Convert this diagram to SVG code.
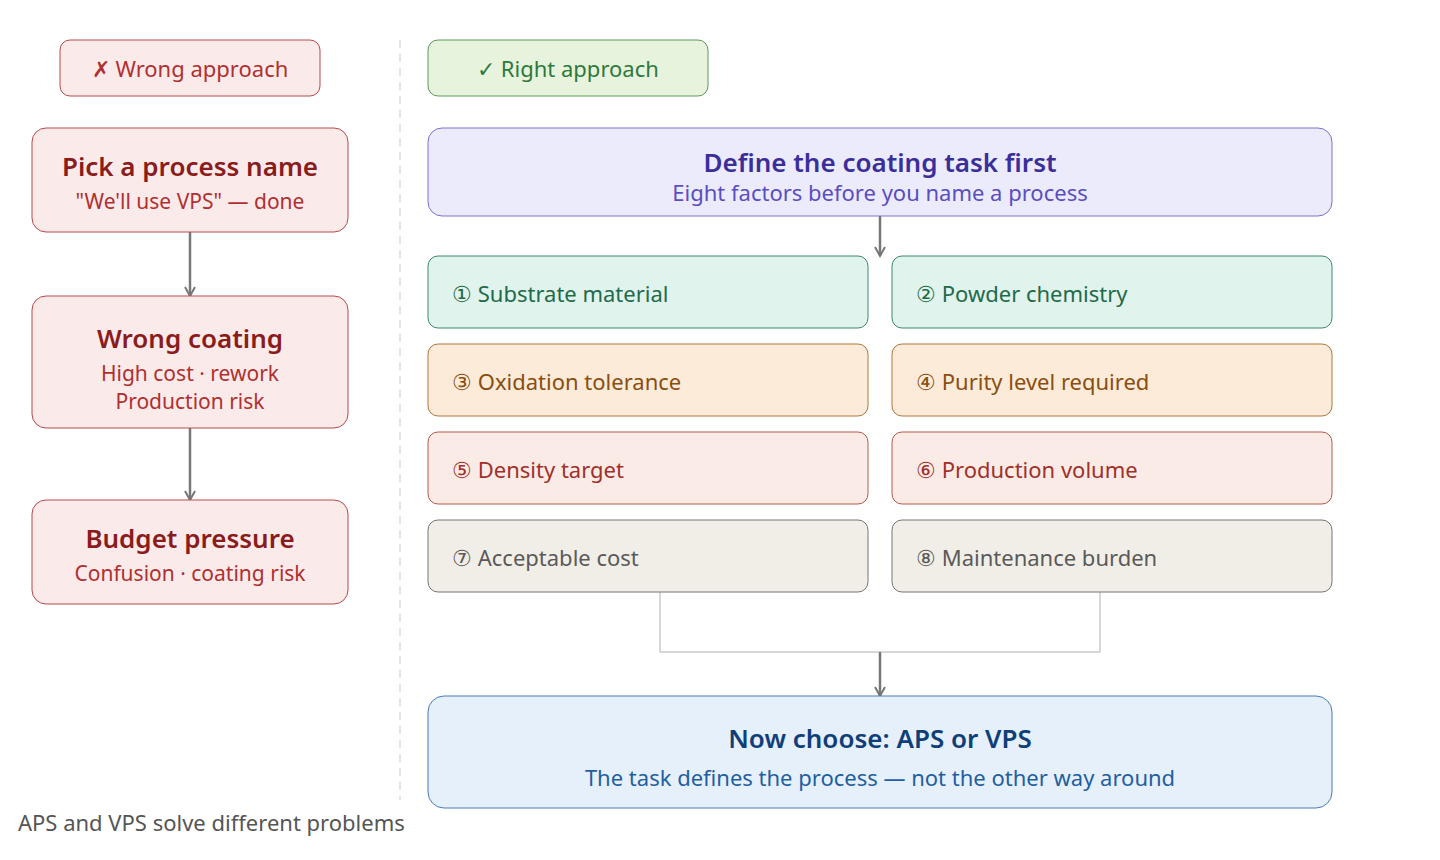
<svg xmlns="http://www.w3.org/2000/svg" width="1440" height="860" viewBox="0 0 1440 860">
<style>
text{font-family:"Noto Sans","Open Sans","Liberation Sans",sans-serif;text-anchor:middle}
.red rect{fill:#fbeaea;stroke:#b84a4a;stroke-width:1}
.t{font-size:26px;font-weight:600;fill:#8a1c1c}
.s{font-size:21px;fill:#b03030}
.f{font-size:22px;text-anchor:start}
.c{stroke:#777;stroke-width:2.5;fill:none;marker-end:url(#a)}
</style>
<defs><marker id="a" viewBox="0 0 12 12" refX="10" refY="6" markerWidth="12" markerHeight="12" markerUnits="userSpaceOnUse" orient="auto"><path d="M1,1 L10,6 L1,11" fill="none" stroke="#777" stroke-width="2"/></marker></defs>
<rect width="1440" height="860" fill="#fff"/>
<line x1="400" y1="40" x2="400" y2="800" stroke="#ddd" stroke-width="1.5" stroke-dasharray="8,6"/>
<g id="connectors">
<path class="c" d="M190,232 V296"/>
<path class="c" d="M190,428 V500"/>
<path class="c" d="M880,216 V256"/>
<path d="M660,592 V652 H1100 V592" fill="none" stroke="#ccc" stroke-width="1.5"/>
<path class="c" d="M880,652 V696"/>
</g>
<g id="wrong" class="red"><rect x="60" y="40" width="260" height="56" rx="10"/><text x="190" y="77" class="s" style="font-size:22px">✗ Wrong approach</text></g>
<g id="right"><rect x="428" y="40" width="280" height="56" rx="10" fill="#e8f3de" stroke="#5a9a5a"/><text x="568" y="77" style="font-size:22px" fill="#2c7a3c">✓ Right approach</text></g>
<g id="pick" class="red"><rect x="32" y="128" width="316" height="104" rx="14"/><text x="190" y="176" class="t">Pick a process name</text><text x="190" y="209" class="s">"We'll use VPS" — done</text></g>
<g id="wrongcoat" class="red"><rect x="32" y="296" width="316" height="132" rx="14"/><text x="190" y="348" class="t">Wrong coating</text><text x="190" y="381" class="s">High cost · rework</text><text x="190" y="409" class="s">Production risk</text></g>
<g id="budget" class="red"><rect x="32" y="500" width="316" height="104" rx="14"/><text x="190" y="548" class="t">Budget pressure</text><text x="190" y="581" class="s">Confusion · coating risk</text></g>
<g id="define"><rect x="428" y="128" width="904" height="88" rx="14" fill="#ecebfb" stroke="#7a72d0"/><text x="880" y="172" class="t" style="fill:#3a2e9a">Define the coating task first</text><text x="880" y="201" class="s" style="fill:#5a4ec0;font-size:22px">Eight factors before you name a process</text></g>
<g id="f1"><rect x="428" y="256" width="440" height="72" rx="10" fill="#e0f3ec" stroke="#3d8a6a"/><text x="452" y="302" class="f" fill="#1f6a4a">① Substrate material</text></g>
<g id="f2"><rect x="892" y="256" width="440" height="72" rx="10" fill="#e0f3ec" stroke="#3d8a6a"/><text x="916" y="302" class="f" fill="#1f6a4a">② Powder chemistry</text></g>
<g id="f3"><rect x="428" y="344" width="440" height="72" rx="10" fill="#fbebd8" stroke="#b0773a"/><text x="452" y="390" class="f" fill="#8a4e10">③ Oxidation tolerance</text></g>
<g id="f4"><rect x="892" y="344" width="440" height="72" rx="10" fill="#fbebd8" stroke="#b0773a"/><text x="916" y="390" class="f" fill="#8a4e10">④ Purity level required</text></g>
<g id="f5"><rect x="428" y="432" width="440" height="72" rx="10" fill="#fbebe6" stroke="#b85a4a"/><text x="452" y="478" class="f" fill="#a0302a">⑤ Density target</text></g>
<g id="f6"><rect x="892" y="432" width="440" height="72" rx="10" fill="#fbebe6" stroke="#b85a4a"/><text x="916" y="478" class="f" fill="#a0302a">⑥ Production volume</text></g>
<g id="f7"><rect x="428" y="520" width="440" height="72" rx="10" fill="#f1eee8" stroke="#777"/><text x="452" y="566" class="f" fill="#5a5a5a">⑦ Acceptable cost</text></g>
<g id="f8"><rect x="892" y="520" width="440" height="72" rx="10" fill="#f1eee8" stroke="#777"/><text x="916" y="566" class="f" fill="#5a5a5a">⑧ Maintenance burden</text></g>
<g id="choose"><rect x="428" y="696" width="904" height="112" rx="16" fill="#e6f0fb" stroke="#4a7ab8"/><text x="880" y="748" class="t" style="fill:#0f3e78">Now choose: APS or VPS</text><text x="880" y="786" class="s" style="fill:#1f5fa0;font-size:22px">The task defines the process — not the other way around</text></g>
<text x="18" y="831" style="text-anchor:start;font-size:22px" fill="#555">APS and VPS solve different problems</text>
</svg>
